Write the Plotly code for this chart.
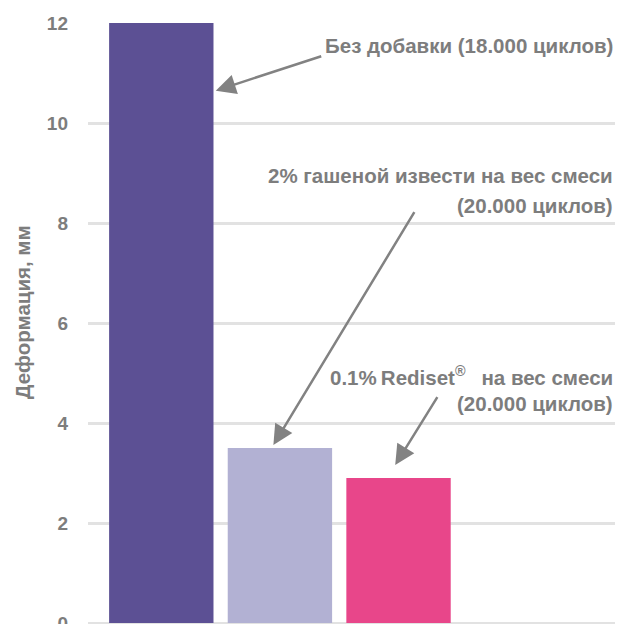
import plotly.graph_objects as go

categories = ["Без добавки", "2% гашеной извести", "0.1% Rediset"]
values = [12, 3.5, 2.9]
colors = ["#5c5094", "#b2b1d3", "#e8468a"]
tick_vals = [0, 2, 4, 6, 8, 10, 12]
y_title = "Деформация, мм"
labels = [
    ["Без добавки (18.000 циклов)"],
    ["2% гашеной извести на вес смеси", "(20.000 циклов)"],
    ["0.1%\u2009Rediset<sup>®</sup>\u2002 на вес смеси", "(20.000 циклов)"],
]

GRAY = "#7d7d7d"
FONT = "Liberation Sans"

fig = go.Figure()
fig.add_trace(go.Bar(
    x=list(range(len(categories))), y=values,
    marker=dict(color=colors, line=dict(width=0)),
    width=0.88, hoverinfo="skip",
))

# text positions (layout)
text_y = [[11.55], [8.95, 8.36], [4.94, 4.40]]
for lines, ys in zip(labels, text_y):
    for t, yy in zip(lines, ys):
        fig.add_annotation(
            text=t, xref="paper", yref="y", x=1.0, y=yy,
            xanchor="right", yanchor="middle", showarrow=False,
            font=dict(family=FONT, size=20.5, color=GRAY, weight="bold"),
        )

# y-axis title
fig.add_annotation(
    text=y_title, xref="paper", yref="paper", x=0, y=0.518,
    xanchor="center", yanchor="middle", xshift=-66, textangle=-90,
    showarrow=False,
    font=dict(family=FONT, size=20.5, color=GRAY, weight="bold"),
)

# arrows: (head_x, head_y, tail_x, tail_y) in data coords
arrows = [
    (0.459, 10.646, 1.361, 11.346),
    (0.945, 3.56, 2.141, 8.246),
    (1.972, 3.16, 2.335, 4.546),
]
for hx, hy, tx, ty in arrows:
    fig.add_annotation(
        x=hx, y=hy, ax=tx, ay=ty, xref="x", yref="y", axref="x", ayref="y",
        text="", showarrow=True, arrowhead=2, arrowsize=1.6, arrowwidth=2.5,
        arrowcolor="#828282",
    )

fig.update_layout(
    width=618, height=624,
    margin=dict(l=88, r=3, t=23, b=1, autoexpand=False),
    paper_bgcolor="white", plot_bgcolor="white",
    showlegend=False,
    xaxis=dict(range=[-0.618, 3.825], showticklabels=False, showgrid=False,
               zeroline=False, showline=False, ticks=""),
    yaxis=dict(range=[0, 12], tickvals=tick_vals, showgrid=True,
               gridcolor="#e2e2e2", gridwidth=3, zeroline=True,
               zerolinecolor="#e2e2e2", zerolinewidth=3, showline=False,
               ticks="", ticklabelstandoff=19, automargin=False,
               ticklabeloverflow="allow",
               tickfont=dict(family=FONT, size=19, color=GRAY, weight="bold")),
)

fig.write_html(
    "out.html",
    config={"displayModeBar": False},
    post_script="document.body.style.margin='0';document.body.style.overflow='hidden';",
)
